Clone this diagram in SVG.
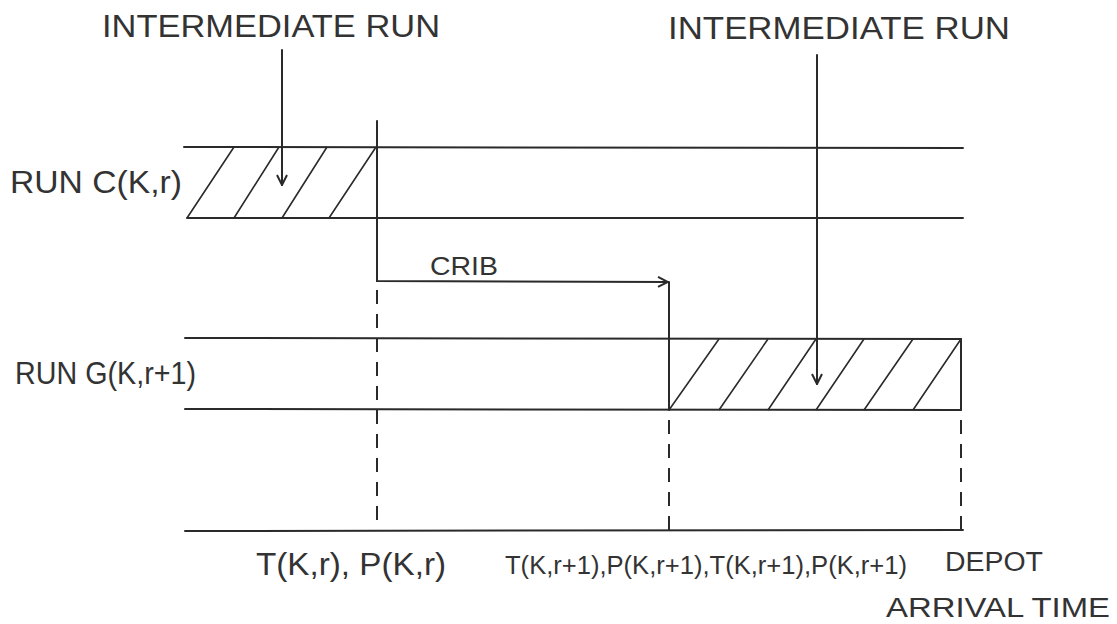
<svg xmlns="http://www.w3.org/2000/svg" width="1117" height="624" viewBox="0 0 1117 624">
<style>
.ln{stroke:#2a2a2a;stroke-width:2;fill:none;stroke-linecap:round}
.th{stroke:#2a2a2a;stroke-width:1.6;fill:none}
.ds{stroke:#2a2a2a;stroke-width:2;fill:none;stroke-dasharray:14 10}
.t{font-family:"Liberation Sans",Arial,sans-serif;font-size:32px;fill:#333333}
.m{font-family:"Liberation Sans",Arial,sans-serif;font-size:27px;fill:#333333}
.s{font-family:"Liberation Sans",Arial,sans-serif;font-size:25px;fill:#333333}
.n{font-family:"Liberation Sans",Arial,sans-serif;font-size:25.5px;fill:#333333}
</style>
<defs>
<marker id="ah" viewBox="0 0 12 12" refX="11" refY="6" markerWidth="12" markerHeight="12" markerUnits="userSpaceOnUse" orient="auto">
<path d="M1,1 L11,6 L1,11" fill="none" stroke="#2a2a2a" stroke-width="2"/>
</marker>
</defs>
<rect width="1117" height="624" fill="#ffffff"/>
<g id="labels-top">
<text class="t" x="102" y="37" textLength="338" lengthAdjust="spacingAndGlyphs">INTERMEDIATE  RUN</text>
<text class="t" x="668" y="39" textLength="342" lengthAdjust="spacingAndGlyphs">INTERMEDIATE RUN</text>
</g>
<g id="run-c">
<line class="ln" x1="184" y1="147" x2="963" y2="148"/>
<line class="ln" x1="187" y1="218" x2="963" y2="218"/>
<path class="th" d="M187,218 L234,147 M234,218 L279,147 M282,218 L327,147 M329,218 L376,147"/>
<text class="t" x="10" y="193" textLength="172" lengthAdjust="spacingAndGlyphs">RUN C(K,r)</text>
</g>
<g id="run-g">
<line class="ln" x1="185" y1="338" x2="961" y2="339"/>
<line class="ln" x1="185" y1="409" x2="961" y2="410"/>
<line class="ln" x1="961" y1="339" x2="961" y2="410"/>
<path class="th" d="M669,410 L719,339 M719,410 L768,339 M768,410 L816,339 M816,410 L864,339 M864,410 L913,339 M913,410 L961,339"/>
<text class="t" x="15" y="384" textLength="181" lengthAdjust="spacingAndGlyphs">RUN G(K,r+1)</text>
</g>
<g id="axis">
<line class="ln" x1="185" y1="531" x2="963" y2="530"/>
<text class="t" x="256" y="575" textLength="190" lengthAdjust="spacingAndGlyphs">T(K,r),  P(K,r)</text>
<text class="n" x="505" y="574" textLength="402" lengthAdjust="spacingAndGlyphs">T(K,r+1),P(K,r+1),T(K,r+1),P(K,r+1)</text>
<text class="m" x="945" y="571" textLength="98" lengthAdjust="spacingAndGlyphs">DEPOT</text>
<text class="m" x="886" y="617" textLength="224" lengthAdjust="spacingAndGlyphs">ARRIVAL TIME</text>
</g>
<g id="connectors">
<line class="ln" x1="282" y1="50" x2="282" y2="185" marker-end="url(#ah)"/>
<line class="ln" x1="817" y1="55" x2="817" y2="384" marker-end="url(#ah)"/>
<polyline class="ln" points="377,121 377,281 668,282" marker-end="url(#ah)"/>
<text class="s" x="430" y="275" textLength="68" lengthAdjust="spacingAndGlyphs">CRIB</text>
<line class="ln" x1="669" y1="282" x2="669" y2="410"/>
<line class="ds" x1="377" y1="290" x2="377" y2="530"/>
<line class="ds" x1="669" y1="420" x2="669" y2="530"/>
<line class="ds" x1="961" y1="420" x2="961" y2="530"/>
</g>
</svg>
